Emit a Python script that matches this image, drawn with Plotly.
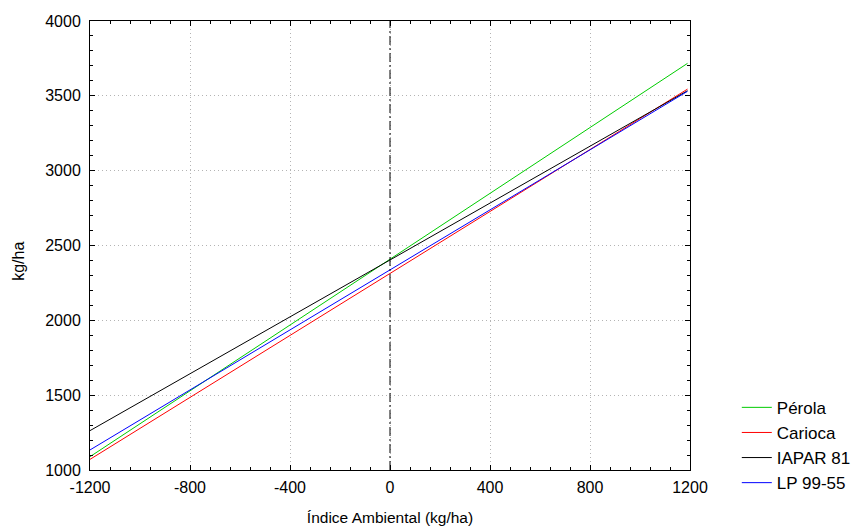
import plotly.graph_objects as go

x_ends = [-1200, 1190]
series_names = ["Pérola", "Carioca", "IAPAR 81", "LP 99-55"]
series_values = {
    "Pérola": [1089, 3717],
    "Carioca": [1071, 3545],
    "IAPAR 81": [1263, 3534],
    "LP 99-55": [1134, 3530],
}
colors = {"Pérola": "#00cc00", "Carioca": "#ff0000", "IAPAR 81": "#000000", "LP 99-55": "#0000ff"}

x_ticks = [-1200, -800, -400, 0, 400, 800, 1200]
y_ticks = [1000, 1500, 2000, 2500, 3000, 3500, 4000]

x_title = "Índice Ambiental (kg/ha)"
y_title = "kg/ha"

FONT = "Liberation Sans, Arial, sans-serif"

fig = go.Figure()
for name in series_names:
    fig.add_trace(go.Scatter(x=x_ends, y=series_values[name], mode="lines", name=name,
                             legendgroup=name,
                             line=dict(color=colors[name], width=1)))

fig.add_shape(type="line", x0=0, x1=0, y0=1000, y1=4000, xref="x", yref="y",
              line=dict(color="black", width=1, dash="9px,3px,2px,3px"))

axis_common = dict(showline=True, linecolor="black", linewidth=1, mirror="allticks",
                   ticks="inside", ticklen=5, tickcolor="black",
                   showgrid=True, gridcolor="#b4b4b4", griddash="1px,3px", gridwidth=1,
                   zeroline=False, tickfont=dict(family=FONT, size=16, color="black"))

fig.update_xaxes(range=[-1200, 1200], tickvals=x_ticks, ticktext=[str(v) for v in x_ticks],
                 ticklabelstandoff=3,
                 minor=dict(dtick=80, tick0=-1200, ticks="inside", ticklen=3, tickcolor="black", showgrid=False),
                 title=dict(text=x_title, font=dict(family=FONT, size=15.5, color="black"), standoff=16),
                 **axis_common)
fig.update_yaxes(range=[1000, 4000], tickvals=y_ticks, ticktext=[str(v) for v in y_ticks],
                 ticklabelstandoff=5,
                 minor=dict(dtick=100, tick0=1000, ticks="inside", ticklen=3, tickcolor="black", showgrid=False),
                 **axis_common)

fig.add_annotation(text=y_title, textangle=-90, xref="paper", yref="paper",
                   x=-0.119, y=0.465, xanchor="center", yanchor="middle", showarrow=False,
                   font=dict(family=FONT, size=16, color="black"))

fig.update_layout(width=856, height=528, margin=dict(l=90, r=166, t=21, b=58, autoexpand=False),
                  plot_bgcolor="white", paper_bgcolor="white",
                  font=dict(family=FONT, size=16, color="black"),
                  legend=dict(x=1.078, y=0.055, xanchor="left", yanchor="middle",
                              font=dict(family=FONT, size=17), bgcolor="rgba(0,0,0,0)",
                              itemwidth=30, tracegroupgap=0))

fig.write_html("out.html", config={"displayModeBar": False},
               post_script="document.body.style.margin='0';document.body.style.overflow='hidden';")
